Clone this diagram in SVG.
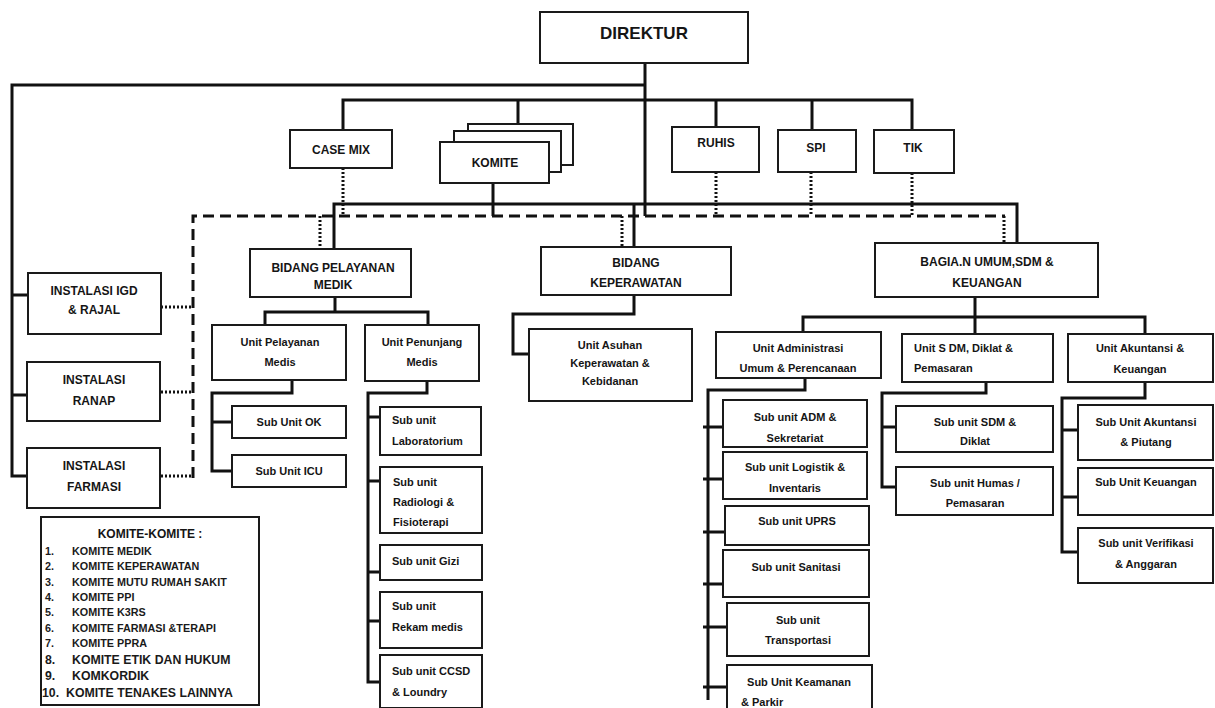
<svg xmlns="http://www.w3.org/2000/svg" width="1215" height="708" viewBox="0 0 1215 708">
<style>
.b{fill:#fff;stroke:#1a1a1a;stroke-width:2}
.t{font-family:"Liberation Sans",Arial,sans-serif;font-weight:bold;fill:#151515;text-anchor:middle;font-size:11px}
.l{text-anchor:start}
.h{font-size:12px}
.s{fill:none;stroke:#111;stroke-width:3}
.d{fill:none;stroke:#111;stroke-width:3;stroke-dasharray:11 6}
.o{fill:none;stroke:#111;stroke-width:3;stroke-dasharray:2 2}
.k{font-family:"Liberation Sans",Arial,sans-serif;font-weight:bold;fill:#1a1a1a;font-size:10.8px}
.k2{font-size:12.3px}
</style>
<rect width="1215" height="708" fill="#fff"/>
<g id="connectors">
<path class="s" d="M645,63V216M645,85H12V476H27M12,295H28M12,395H27"/>
<path class="s" d="M343,130V100H912V130M518,100V124M716,100V127M812,100V130"/>
<path class="s" d="M493,183V216M334,249V204H1017V243M634,204V247"/>
<path class="s" d="M335,297V312M265,325V312H428V325"/>
<path class="s" d="M292,380V393H212V471H232M212,422H232"/>
<path class="s" d="M427,381V393H368V682H380M368,417H380M368,481H380M368,572H380M368,621H380"/>
<path class="s" d="M634,295V314H513V354H529"/>
<path class="s" d="M975,297V334M803,332V317H1145V334"/>
<path class="s" d="M805,378V390H708V700M703,427H723M703,479H723M703,532H725M703,584H723M703,627H727M703,687H727"/>
<path class="s" d="M986,382V393H882V487H896M882,427H896"/>
<path class="s" d="M1145,382V398H1062V552H1078M1062,430H1078M1062,497H1078"/>
<path class="d" d="M193,478V216H1005"/>
<path class="o" d="M343,168V216M320,216V249M622,216V247M716,172V216M811,172V216M912,173V216M1004,216V243M161,307H193M161,392H193M161,476H193"/>
</g>
<g id="direktur"><rect class="b" x="540" y="12" width="208" height="51"/><text class="t" x="644" y="39" style="font-size:17px">DIREKTUR</text></g>
<g id="casemix"><rect class="b" x="290" y="130" width="102" height="38"/><text class="t h" x="341" y="154">CASE MIX</text></g>
<g id="komite"><rect class="b" x="468" y="124" width="105" height="41"/><rect class="b" x="454" y="131" width="107" height="41"/><rect class="b" x="440" y="142" width="109" height="41"/><text class="t h" x="495" y="167">KOMITE</text></g>
<g id="ruhis"><rect class="b" x="672" y="127" width="87" height="45"/><text class="t h" x="716" y="147">RUHIS</text></g>
<g id="spi"><rect class="b" x="778" y="130" width="78" height="42"/><text class="t h" x="816" y="152">SPI</text></g>
<g id="tik"><rect class="b" x="874" y="130" width="80" height="43"/><text class="t h" x="913" y="152">TIK</text></g>
<g id="instalasi-igd"><rect class="b" x="28" y="273" width="133" height="61"/><text class="t h" x="94" y="295"><tspan x="94">INSTALASI  IGD</tspan><tspan x="94" dy="19">&amp; RAJAL</tspan></text></g>
<g id="instalasi-ranap"><rect class="b" x="27" y="362" width="133" height="59"/><text class="t h" x="94" y="384"><tspan x="94">INSTALASI</tspan><tspan x="94" dy="21">RANAP</tspan></text></g>
<g id="instalasi-farmasi"><rect class="b" x="27" y="448" width="133" height="60"/><text class="t h" x="94" y="470"><tspan x="94">INSTALASI</tspan><tspan x="94" dy="21">FARMASI</tspan></text></g>
<g id="bidang-pelayanan"><rect class="b" x="250" y="249" width="161" height="48"/><text class="t h" x="333" y="272"><tspan x="333">BIDANG PELAYANAN</tspan><tspan x="333" dy="17">MEDIK</tspan></text></g>
<g id="bidang-keperawatan"><rect class="b" x="541" y="247" width="190" height="48"/><text class="t h" x="636" y="267"><tspan x="636">BIDANG</tspan><tspan x="636" dy="20">KEPERAWATAN</tspan></text></g>
<g id="bagian-umum"><rect class="b" x="875" y="243" width="223" height="54"/><text class="t h" x="987" y="266"><tspan x="987">BAGIA.N UMUM,SDM &amp;</tspan><tspan x="987" dy="21">KEUANGAN</tspan></text></g>
<g id="unit-pelayanan"><rect class="b" x="212" y="325" width="134" height="55"/><text class="t" x="280" y="346"><tspan x="280">Unit  Pelayanan</tspan><tspan x="280" dy="20">Medis</tspan></text></g>
<g id="unit-penunjang"><rect class="b" x="365" y="325" width="114" height="56"/><text class="t" x="422" y="346"><tspan x="422">Unit Penunjang</tspan><tspan x="422" dy="20">Medis</tspan></text></g>
<g id="sub-ok"><rect class="b" x="232" y="406" width="114" height="32"/><text class="t" x="289" y="426">Sub Unit OK</text></g>
<g id="sub-icu"><rect class="b" x="232" y="455" width="114" height="32"/><text class="t" x="289" y="475">Sub Unit ICU</text></g>
<g id="sub-lab"><rect class="b" x="380" y="407" width="101" height="48"/><text class="t l" x="392" y="424"><tspan x="392">Sub unit</tspan><tspan x="392" dy="21">Laboratorium</tspan></text></g>
<g id="sub-radiologi"><rect class="b" x="380" y="467" width="102" height="66"/><text class="t l" x="393" y="486"><tspan x="393">Sub unit</tspan><tspan x="393" dy="20">Radiologi &amp;</tspan><tspan x="393" dy="20">Fisioterapi</tspan></text></g>
<g id="sub-gizi"><rect class="b" x="380" y="545" width="102" height="35"/><text class="t l" x="392" y="565">Sub unit Gizi</text></g>
<g id="sub-rekam"><rect class="b" x="380" y="592" width="102" height="56"/><text class="t l" x="392" y="610"><tspan x="392">Sub unit</tspan><tspan x="392" dy="21">Rekam medis</tspan></text></g>
<g id="sub-ccsd"><rect class="b" x="380" y="655" width="102" height="53"/><text class="t l" x="392" y="675"><tspan x="392">Sub unit CCSD</tspan><tspan x="392" dy="21">&amp; Loundry</tspan></text></g>
<g id="unit-asuhan"><rect class="b" x="529" y="329" width="163" height="72"/><text class="t" x="610" y="349"><tspan x="610">Unit  Asuhan</tspan><tspan x="610" dy="18">Keperawatan &amp;</tspan><tspan x="610" dy="18">Kebidanan</tspan></text></g>
<g id="unit-administrasi"><rect class="b" x="716" y="332" width="165" height="46"/><text class="t" x="798" y="352"><tspan x="798">Unit Administrasi</tspan><tspan x="798" dy="20">Umum  &amp; Perencanaan</tspan></text></g>
<g id="unit-sdm"><rect class="b" x="902" y="334" width="151" height="48"/><text class="t l" x="914" y="352"><tspan x="914">Unit S DM, Diklat &amp;</tspan><tspan x="914" dy="20">Pemasaran</tspan></text></g>
<g id="unit-akuntansi"><rect class="b" x="1068" y="334" width="145" height="48"/><text class="t" x="1140" y="352"><tspan x="1140">Unit Akuntansi &amp;</tspan><tspan x="1140" dy="21">Keuangan</tspan></text></g>
<g id="sub-adm"><rect class="b" x="723" y="400" width="144" height="47"/><text class="t" x="795" y="421"><tspan x="795">Sub unit ADM &amp;</tspan><tspan x="795" dy="21">Sekretariat</tspan></text></g>
<g id="sub-logistik"><rect class="b" x="723" y="452" width="144" height="47"/><text class="t" x="795" y="471"><tspan x="795">Sub unit Logistik &amp;</tspan><tspan x="795" dy="21">Inventaris</tspan></text></g>
<g id="sub-uprs"><rect class="b" x="725" y="506" width="144" height="39"/><text class="t" x="797" y="525">Sub unit UPRS</text></g>
<g id="sub-sanitasi"><rect class="b" x="723" y="550" width="146" height="47"/><text class="t" x="796" y="571">Sub unit Sanitasi</text></g>
<g id="sub-transportasi"><rect class="b" x="727" y="603" width="142" height="53"/><text class="t" x="798" y="624"><tspan x="798">Sub unit</tspan><tspan x="798" dy="20">Transportasi</tspan></text></g>
<g id="sub-keamanan"><rect class="b" x="727" y="665" width="145" height="50"/><text class="t" x="799" y="686"><tspan x="799">Sub Unit Keamanan</tspan><tspan x="741" dy="20" style="text-anchor:start">&amp; Parkir</tspan></text></g>
<g id="sub-sdm-diklat"><rect class="b" x="896" y="406" width="157" height="46"/><text class="t" x="975" y="426"><tspan x="975">Sub unit  SDM &amp;</tspan><tspan x="975" dy="19">Diklat</tspan></text></g>
<g id="sub-humas"><rect class="b" x="896" y="467" width="157" height="48"/><text class="t" x="975" y="487"><tspan x="975">Sub unit Humas /</tspan><tspan x="975" dy="20">Pemasaran</tspan></text></g>
<g id="sub-akuntansi"><rect class="b" x="1078" y="405" width="135" height="55"/><text class="t" x="1146" y="426"><tspan x="1146">Sub Unit Akuntansi</tspan><tspan x="1146" dy="20">&amp; Piutang</tspan></text></g>
<g id="sub-keuangan"><rect class="b" x="1078" y="468" width="135" height="47"/><text class="t" x="1146" y="486">Sub Unit Keuangan</text></g>
<g id="sub-verifikasi"><rect class="b" x="1078" y="528" width="135" height="55"/><text class="t" x="1146" y="547"><tspan x="1146">Sub unit Verifikasi</tspan><tspan x="1146" dy="21">&amp; Anggaran</tspan></text></g>
<g id="komite-list"><rect class="b" x="41" y="517" width="218" height="188"/>
<text class="t h" x="150" y="538">KOMITE-KOMITE :</text>
<text class="k" y="555"><tspan x="45">1.</tspan><tspan x="72">KOMITE MEDIK</tspan></text>
<text class="k" y="570"><tspan x="45">2.</tspan><tspan x="72">KOMITE KEPERAWATAN</tspan></text>
<text class="k" y="586"><tspan x="45">3.</tspan><tspan x="72">KOMITE MUTU RUMAH SAKIT</tspan></text>
<text class="k" y="601"><tspan x="45">4.</tspan><tspan x="72">KOMITE PPI</tspan></text>
<text class="k" y="616"><tspan x="45">5.</tspan><tspan x="72">KOMITE K3RS</tspan></text>
<text class="k" y="632"><tspan x="45">6.</tspan><tspan x="72">KOMITE FARMASI &amp;TERAPI</tspan></text>
<text class="k" y="647"><tspan x="45">7.</tspan><tspan x="72">KOMITE PPRA</tspan></text>
<text class="k k2" y="664"><tspan x="45">8.</tspan><tspan x="72">KOMITE ETIK DAN HUKUM</tspan></text>
<text class="k k2" y="680"><tspan x="45">9.</tspan><tspan x="72">KOMKORDIK</tspan></text>
<text class="k k2" y="697"><tspan x="42">10.</tspan><tspan x="66">KOMITE TENAKES LAINNYA</tspan></text>
</g>
</svg>
